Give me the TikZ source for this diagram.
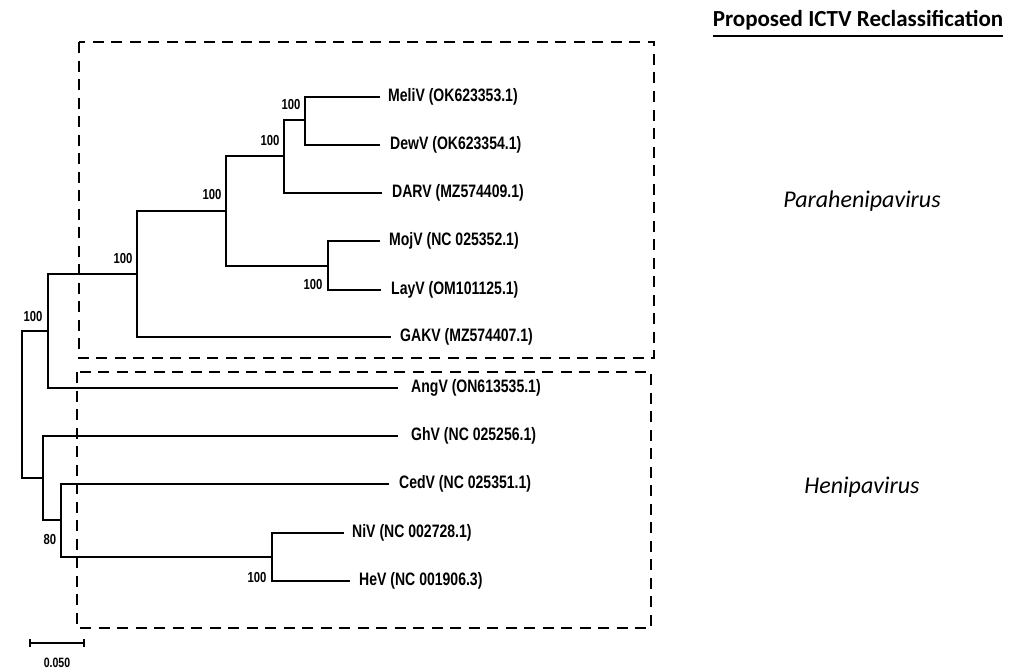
\documentclass[tikz,border=0pt]{standalone}
\usepackage{fontspec}
\setmainfont{Carlito}
\newfontfamily\treefont[FakeStretch=0.78]{Liberation Sans}
\begin{document}
\begin{tikzpicture}[x=1pt,y=-1pt,
  branch/.style={draw=black, line width=2pt},
  cladebox/.style={draw=black, line width=2.6pt, dash pattern=on 11pt off 7.5pt},
  leaf/.style={anchor=west, inner sep=0pt, font=\treefont\bfseries\fontsize{18}{20}\selectfont},
  boot/.style={inner sep=0pt, font=\treefont\bfseries\fontsize{14.5}{16}\selectfont},
  genus/.style={anchor=base, inner sep=0pt, font=\itshape\fontsize{24}{28}\selectfont},
]
\useasboundingbox (0,0) rectangle (1016,669);

% clade boxes
\draw[cladebox] (79,42) rectangle (654,358);
\draw[cladebox] (77,372) rectangle (651,628);

% internal nodes
\coordinate (r) at (22,404);
\coordinate (A) at (48,331);
\coordinate (P) at (137,274);
\coordinate (Q) at (226,211);
\coordinate (R) at (284,156);
\coordinate (T) at (305,120);
\coordinate (S) at (328,266);
\coordinate (B) at (43,478);
\coordinate (C) at (61,520);
\coordinate (D) at (272,557);

% leaf tips
\coordinate (tMeli) at (380,97);
\coordinate (tDew) at (380,145);
\coordinate (tDARV) at (382,193);
\coordinate (tMoj) at (380,241);
\coordinate (tLay) at (381,290);
\coordinate (tGAKV) at (391,337);
\coordinate (tAng) at (398,388);
\coordinate (tGh) at (398,436);
\coordinate (tCed) at (389,484);
\coordinate (tNi) at (344,533);
\coordinate (tHe) at (350,581);

% branches
\draw[branch] (r) |- (A);
\draw[branch] (r) |- (B);
\draw[branch] (A) |- (P);
\draw[branch] (A) |- (tAng);
\draw[branch] (P) |- (Q);
\draw[branch] (P) |- (tGAKV);
\draw[branch] (Q) |- (R);
\draw[branch] (Q) |- (S);
\draw[branch] (R) |- (T);
\draw[branch] (R) |- (tDARV);
\draw[branch] (T) |- (tMeli);
\draw[branch] (T) |- (tDew);
\draw[branch] (S) |- (tMoj);
\draw[branch] (S) |- (tLay);
\draw[branch] (B) |- (tGh);
\draw[branch] (B) |- (C);
\draw[branch] (C) |- (tCed);
\draw[branch] (C) |- (D);
\draw[branch] (D) |- (tNi);
\draw[branch] (D) |- (tHe);

% leaf labels
\node[leaf] (lMeli) at (388,97) {MeliV (OK623353.1)};
\node[leaf] (lDew) at (390,145) {DewV (OK623354.1)};
\node[leaf] (lDARV) at (392,193) {DARV (MZ574409.1)};
\node[leaf] (lMoj) at (389,241) {MojV (NC 025352.1)};
\node[leaf] (lLay) at (391,290) {LayV (OM101125.1)};
\node[leaf] (lGAKV) at (400,337) {GAKV (MZ574407.1)};
\node[leaf] (lAng) at (411,388) {AngV (ON613535.1)};
\node[leaf] (lGh) at (411,436) {GhV (NC 025256.1)};
\node[leaf] (lCed) at (399,484) {CedV (NC 025351.1)};
\node[leaf] (lNi) at (352,533) {NiV (NC 002728.1)};
\node[leaf] (lHe) at (359,581) {HeV (NC 001906.3)};

% bootstrap values
\node[boot] (bA) at (33,317) {100};
\node[boot] (bP) at (123,259) {100};
\node[boot] (bQ) at (212,195) {100};
\node[boot] (bR) at (270,141) {100};
\node[boot] (bT) at (291,105) {100};
\node[boot] (bS) at (313,285) {100};
\node[boot] (bC) at (50,540) {80};
\node[boot] (bD) at (257,577) {100};

% scale bar
\coordinate (s1) at (30,643);
\coordinate (s2) at (84,643);
\draw[branch] (s1) -- (s2);
\draw[branch] ([yshift=4pt]s1) -- ([yshift=-4pt]s1);
\draw[branch] ([yshift=4pt]s2) -- ([yshift=-4pt]s2);
\node[boot, font=\treefont\bfseries\fontsize{13.5}{15}\selectfont] (scale) at (57,663) {0.050};

% right-hand labels
\node[anchor=base, inner sep=0pt, font=\bfseries\fontsize{23}{28}\selectfont] (title) at (858,27) {Proposed ICTV Reclassification};
\draw[line width=2pt] (title.west |- 0,36) -- (title.east |- 0,36);
\node[genus] (gPara) at (862,207) {Parahenipavirus};
\node[genus] (gHeni) at (862,493) {Henipavirus};
\end{tikzpicture}
\end{document}
